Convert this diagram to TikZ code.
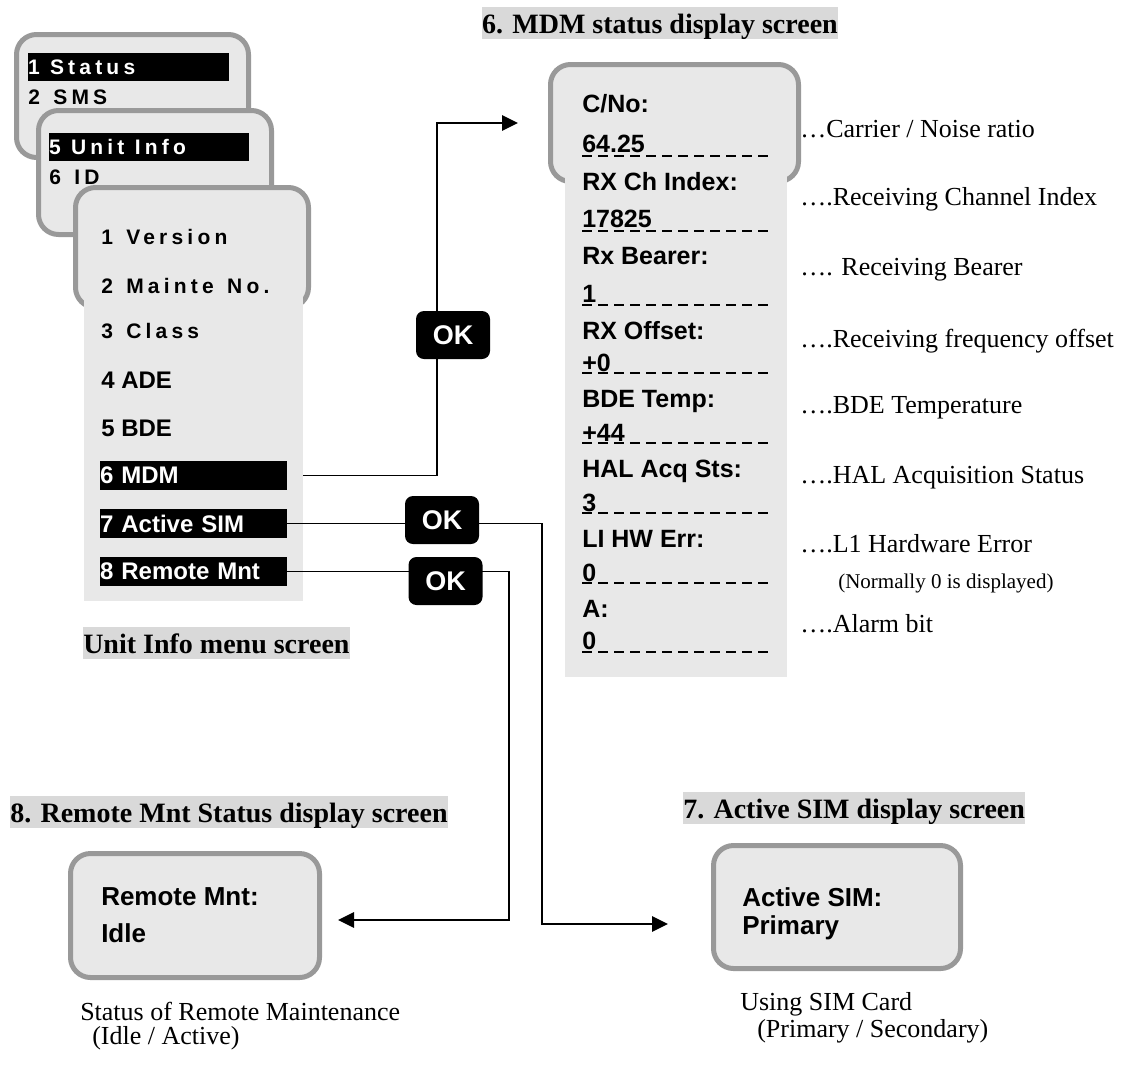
\documentclass[tikz,border=0pt]{standalone}
\usepackage{fontspec}
\setmainfont{Liberation Serif}
\newfontfamily\arial{Liberation Sans}
\newfontfamily\arialls{Liberation Sans}[LetterSpace=20]
\newcommand\lsgap{\hspace{2.5pt}}
\usetikzlibrary{arrows.meta,calc}
\definecolor{scrfill}{HTML}{E8E8E8}
\definecolor{scrborder}{HTML}{999999}
\definecolor{hl}{HTML}{D9D9D9}
\begin{document}
\begin{tikzpicture}[x=0.75pt,y=-0.75pt,
  screen/.style={draw=scrborder, line width=3.75pt, fill=scrfill, rounded corners=15pt, inner sep=0pt},
  panel/.style={fill=scrfill, inner sep=0pt, outer sep=0pt},
  bar/.style={fill=black, text=white, inner sep=0pt, outer sep=0pt, anchor=west, align=left},
  menuls/.style={font=\arialls\bfseries\fontsize{15.75}{18}\selectfont},
  menut/.style={font=\arial\bfseries\fontsize{18}{21}\selectfont},
  txt/.style={inner sep=0pt, anchor=base west},
  lcd/.style={font=\arial\bfseries\fontsize{18.75}{22}\selectfont},
  lcdbig/.style={font=\arial\bfseries\fontsize{19.5}{23}\selectfont},
  note/.style={font=\fontsize{19.5}{23}\selectfont},
  smallnote/.style={font=\fontsize{15.75}{18}\selectfont},
  title/.style={fill=hl, font=\bfseries\fontsize{21}{25}\selectfont, inner xsep=0pt, inner ysep=0pt, text height=19.5pt, text depth=4.5pt, anchor=base west},
  okbtn/.style={fill=black, rounded corners=6pt, minimum width=55.5pt, minimum height=36pt, text=white, inner sep=0pt, font=\arial\bfseries\fontsize{20.25}{24}\selectfont},
  conn/.style={line width=1.3pt},
  arr/.style={conn, -{Triangle[length=12pt,width=11.5pt]}},
  dashrow/.style={line width=1.5pt, dash pattern=on 7.5pt off 4.5pt}
]
\useasboundingbox (0,0) rectangle (1127,1068);

% ---- stacked menu screens ----
\node[screen, minimum width=174pt, minimum height=92.25pt] (s1) at (132.5,96) {};
\node[bar, menuls, text width=150.75pt, minimum height=21pt] (b1) at (28,67) {1 \lsgap Status};
\node[txt, menuls] (sms) at (28,104) {2 \lsgap SMS};

\node[screen, minimum width=174.75pt, minimum height=93pt] (s2) at (155,172.5) {};
\node[bar, menuls, text width=150pt, minimum height=21pt] (b5) at (49,147) {5 \lsgap Unit \lsgap Info};
\node[txt, menuls] (id) at (49,184) {6 \lsgap ID};

\node[screen, minimum width=174.75pt, minimum height=90pt] (s3) at (192,247.5) {};
\node[panel, minimum width=164.25pt, minimum height=233.25pt] (menu) at (193.5,445.5) {};
\node[txt, menuls] (ver) at (101,244) {1 \lsgap Version};
\node[txt, menuls] (mnt) at (101,293) {2 \lsgap Mainte \lsgap No.};
\node[txt, menuls] (cls) at (101,338.5) {3 \lsgap Class};
\node[txt, menut] (ade) at (101,388) {4 ADE};
\node[txt, menut] (bde) at (101,436) {5 BDE};
\node[bar, menut, text width=140.25pt, minimum height=21.75pt] (mdm) at (100,475.5) {6 MDM};
\node[bar, menut, text width=140.25pt, minimum height=21.75pt] (act) at (100,523.5) {7 Active SIM};
\node[bar, menut, text width=140.25pt, minimum height=21.75pt] (rem) at (100,571.5) {8 Remote Mnt};

\node[title] (tu) at (83,653) {Unit Info menu screen};

% ---- MDM status screen ----
\node[title, anchor=base east] (t6) at (838,33) {6. MDM status display screen};
\node[screen, minimum width=186pt, minimum height=87.75pt] (mdmscr) at (674.5,123) {};
\node[panel, minimum width=166.5pt, minimum height=375.75pt] (mdmlist) at (676,426.5) {};
\foreach \lab/\val/\yl/\yv/\yd [count=\i] in {
  {C/No:}/{64.25}/112/152/156,
  {RX Ch Index:}/{17825}/190/227/231,
  {Rx Bearer:}/{1}/264/302/305,
  {RX Offset:}/{+0}/339/371/373,
  {BDE Temp:}/{+44}/407/441/443,
  {HAL Acq Sts:}/{3}/477/511/513,
  {LI HW Err:}/{0}/547/581/583,
  {A:}/{0}/617/649/652}{
  \node[txt, lcd] (lab\i) at (582,\yl) {\lab};
  \node[txt, lcd] (val\i) at (582,\yv) {\val};
  \draw[dashrow] (582,\yd) -- (770,\yd);
}

% ---- annotations ----
\node[txt, note] (n1) at (800,137) {…Carrier / Noise ratio};
\node[txt, note] (n2) at (800,205) {….Receiving Channel Index};
\node[txt, note] (n3) at (800,275) {…. Receiving Bearer};
\node[txt, note] (n4) at (800,347) {….Receiving frequency offset};
\node[txt, note] (n5) at (800,413) {….BDE Temperature};
\node[txt, note] (n6) at (800,483) {….HAL Acquisition Status};
\node[txt, note] (n7) at (800,552) {….L1 Hardware Error};
\node[txt, smallnote] (n7b) at (838,588) {(Normally 0 is displayed)};
\node[txt, note] (n8) at (800,632) {….Alarm bit};

% ---- bottom screens ----
\node[title] (t8) at (10,822) {8. Remote Mnt Status display screen};
\node[screen, minimum width=186.75pt, minimum height=93pt] (remscr) at (195,915.5) {};
\node[txt, lcdbig] (remt1) at (101,905) {Remote Mnt:};
\node[txt, lcdbig] (remt2) at (101,942) {Idle};
\node[txt, note] (remc1) at (80,1020) {Status of Remote Maintenance};
\node[txt, note] (remc2) at (92,1044) {(Idle / Active)};

\node[title] (t7) at (683,818) {7. Active SIM display screen};
\node[screen, minimum width=185.25pt, minimum height=92.25pt] (simscr) at (837,907) {};
\node[txt, lcdbig] (simt1) at (742,906) {Active SIM:};
\node[txt, lcdbig] (simt2) at (742,934) {Primary};
\node[txt, note] (simc1) at (740,1010) {Using SIM Card};
\node[txt, note] (simc2) at (757,1037) {(Primary / Secondary)};

% ---- connectors ----
\coordinate (simin) at (668,924);
\coordinate (remin) at (338,920);
\draw[arr] (menu.east |- mdm.east) -- (437,475.5) |- ($(mdmscr.west)+(-30,0)$);
\draw[arr] (act.east) -- ++(255,0) |- (simin);
\draw[arr] (rem.east) -- ++(222,0) |- (remin);

% ---- OK buttons ----
\node[okbtn] (ok1) at (453,335) {OK\hspace{9pt}};
\node[okbtn] (ok2) at (442,520) {OK\hspace{9pt}};
\node[okbtn] (ok3) at (445.5,581) {OK\hspace{9pt}};
\end{tikzpicture}
\end{document}
